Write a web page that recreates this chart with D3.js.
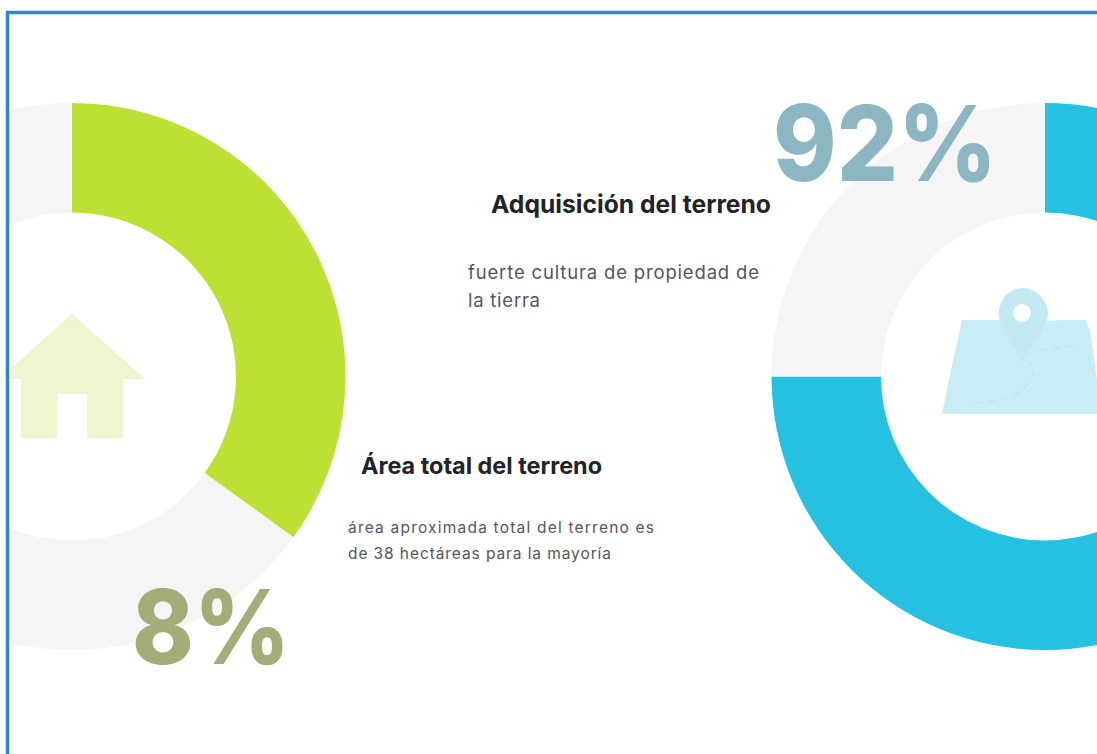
<!DOCTYPE html>
<html lang="es"><head><meta charset="utf-8">
<script src="https://cdn.jsdelivr.net/npm/d3@7"></script>
<style>html,body{margin:0;padding:0;background:#fff;overflow:hidden}svg{display:block}text{font-family:Inter,"Noto Sans",sans-serif}</style>
</head><body><svg id="c" width="1097" height="754"></svg>
<script>
const categories = ["Área total del terreno", "Adquisición del terreno"];
const percentLabels = ["8%", "92%"];
const filledShare = [35, 75];
const remainderShare = [65, 25];
const descriptions = [
  ["área aproximada total del terreno es", "de 38 hectáreas para la mayoría"],
  ["fuerte cultura de propiedad de", "la tierra"]
];
const ringColors = ["#bde035", "#26c1e1"];
const trackColor = "#f5f5f5";

const svg = d3.select("#c");
const defs = svg.append("defs");
defs.append("clipPath").attr("id","frame").append("rect").attr("x",9).attr("y",14).attr("width",1088).attr("height",740);
const plot = svg.append("g").attr("clip-path","url(#frame)");

const outerR = 273.5, innerR = 164;
const centers = [[72,376.5],[1045,376.5]];
const pie = d3.pie().sort(null);
const arc = d3.arc().innerRadius(innerR).outerRadius(outerR);

categories.forEach((c,i)=>{
  const g = plot.append("g").attr("transform",`translate(${centers[i]})`);
  g.selectAll("path").data(pie([filledShare[i],remainderShare[i]])).join("path")
    .attr("d",arc).attr("fill",(d,j)=>j===0?ringColors[i]:trackColor);
});

// house icon
const h = d3.path();
h.moveTo(72,314);h.lineTo(145,379);h.lineTo(123,379);h.lineTo(123,438);h.lineTo(87,438);h.lineTo(87,394);
h.lineTo(57,394);h.lineTo(57,438);h.lineTo(21,438);h.lineTo(21,379);h.lineTo(9,379);h.lineTo(9,370);h.closePath();
plot.append("path").attr("d",h.toString()).attr("fill","#eef6d0");

// map icon
const m = d3.path();
m.moveTo(962,320);m.lineTo(1000,320);m.lineTo(1045,321);m.lineTo(1062,320);m.lineTo(1085,320);m.lineTo(1090,330);m.lineTo(1097,380);
m.lineTo(1097,414);m.lineTo(942,414);m.lineTo(950,375);m.closePath();
plot.append("path").attr("d",m.toString()).attr("fill","#c9edf5");
const p = d3.path();
p.moveTo(1022,362);
p.bezierCurveTo(1010,342,998,327,999,312);
p.bezierCurveTo(1000,296,1012,288,1022,288);
p.bezierCurveTo(1036,288,1048,300,1048,314);
p.bezierCurveTo(1048,326,1034,344,1022,362);
p.closePath();
plot.append("path").attr("d",p.toString()).attr("fill","#c2e9f1");
plot.append("ellipse").attr("cx",1022).attr("cy",313).attr("rx",9).attr("ry",9).attr("fill","#fdfefe");
plot.append("path").attr("d","M975,403L1000,400L1022,392L1033,375L1030,362M1040,350L1075,346")
  .attr("fill","none").attr("stroke","#bfe7f0").attr("stroke-width",2).attr("stroke-dasharray","7 6");

// percent labels
const pctX=[132,773], pctY=[664,181], pctSize=[103,105], pctWidth=[158,224], pctColors=["#a3ad77","#8bb6c2"];
plot.selectAll("text.pct").data(percentLabels).join("text").attr("class","pct")
  .attr("x",(d,i)=>pctX[i]).attr("y",(d,i)=>pctY[i]).attr("font-size",(d,i)=>pctSize[i])
  .attr("font-weight",800).attr("fill",(d,i)=>pctColors[i])
  .attr("textLength",(d,i)=>pctWidth[i]).attr("lengthAdjust","spacingAndGlyphs").text(d=>d);

// headings
const headX=[361,491], headY=[474,213], headSize=[23.5,24.5], headWidth=[241,280];
plot.selectAll("text.head").data(categories).join("text").attr("class","head")
  .attr("x",(d,i)=>headX[i]).attr("y",(d,i)=>headY[i]).attr("font-size",(d,i)=>headSize[i])
  .attr("font-weight",700).attr("fill","#22222a")
  .attr("textLength",(d,i)=>headWidth[i]).attr("lengthAdjust","spacingAndGlyphs").text(d=>d);

// descriptions
const descX=[348,468], descY=[[533,559],[279,307]], descSize=[15.5,18.5], descWidth=[[306,263],[291,72]];
descriptions.forEach((lines,i)=>lines.forEach((t,j)=>{
  plot.append("text").attr("x",descX[i]).attr("y",descY[i][j]).attr("font-size",descSize[i])
    .attr("fill","#55555e").attr("textLength",descWidth[i][j]).attr("lengthAdjust","spacing").text(t);
}));

// frame
svg.append("path").attr("d","M7.5,754V12.5H1097").attr("fill","none").attr("stroke","#2f86c4").attr("stroke-width",3.5);
</script></body></html>
